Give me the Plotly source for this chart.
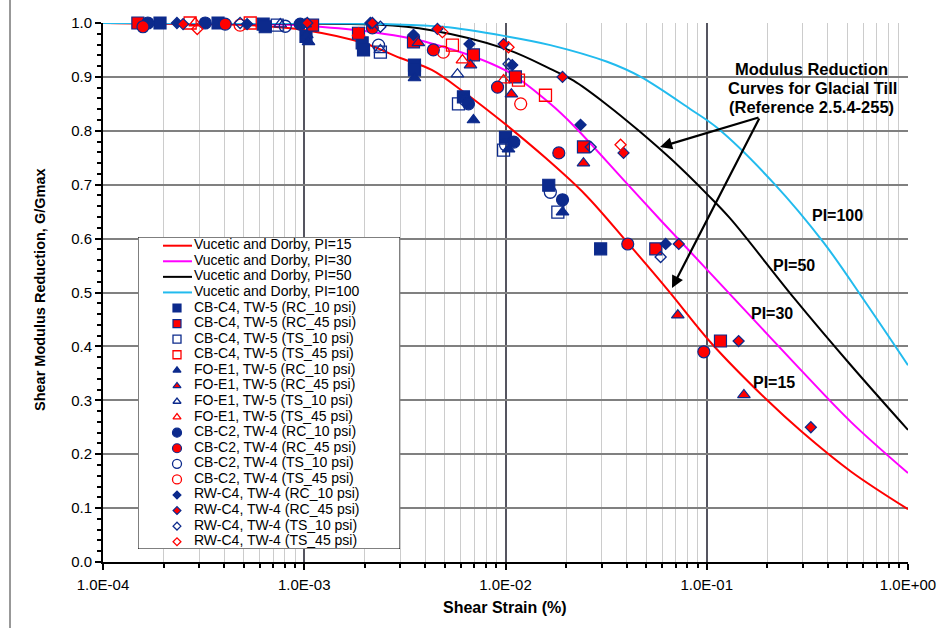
import plotly.graph_objects as go

# ---------------- data ----------------
# Vucetic and Dorby curves
pi15_strain = [1e-4, 3e-4, 6e-4, 1e-3, 2e-3, 3e-3, 4.3e-3, 6.2e-3, 1e-2, 1.6e-2, 2.5e-2, 4.05e-2, 6.4e-2, 0.106, 0.2, 0.294, 0.52, 1.0]
pi15_g = [1.0, 0.998, 0.995, 0.987, 0.962, 0.935, 0.913, 0.872, 0.812, 0.748, 0.681, 0.592, 0.505, 0.405, 0.30, 0.243, 0.168, 0.098]

pi30_strain = [1e-4, 5e-4, 1e-3, 2e-3, 4.2e-3, 1e-2, 1.67e-2, 2.2e-2, 3.86e-2, 5.9e-2, 0.1, 0.203, 0.294, 0.52, 1.0]
pi30_g = [1.0, 0.999, 0.995, 0.985, 0.963, 0.912, 0.85, 0.808, 0.709, 0.634, 0.543, 0.42, 0.356, 0.26, 0.165]

pi50_strain = [1e-4, 1e-3, 2.3e-3, 4.2e-3, 1e-2, 1.67e-2, 2.18e-2, 3.2e-2, 4.6e-2, 6.9e-2, 0.1, 0.131, 0.271, 0.52, 1.0]
pi50_g = [1.0, 0.999, 0.997, 0.987, 0.952, 0.915, 0.893, 0.848, 0.80, 0.742, 0.683, 0.637, 0.49, 0.365, 0.245]

pi100_strain = [1e-4, 1e-3, 2.5e-3, 4.9e-3, 1.02e-2, 1.67e-2, 3.2e-2, 4.7e-2, 8.3e-2, 0.113, 0.215, 0.382, 0.604, 1.0]
pi100_g = [1.0, 1.0, 0.998, 0.993, 0.975, 0.959, 0.928, 0.90, 0.84, 0.805, 0.703, 0.592, 0.486, 0.365]

curve_names = ["Vucetic and Dorby, PI=15", "Vucetic and Dorby, PI=30",
               "Vucetic and Dorby, PI=50", "Vucetic and Dorby, PI=100"]

# Test data
cb_c4_rc10_x = [1.92e-4, 3.73e-4, 6.25e-4, 6.4e-4, 1.02e-3, 1.94e-3, 1.97e-3, 3.53e-3, 3.53e-3, 6.18e-3, 1.0e-2, 1.64e-2, 2.97e-2]
cb_c4_rc10_y = [1.0, 1.0, 0.998, 0.993, 0.975, 0.963, 0.950, 0.922, 0.913, 0.863, 0.788, 0.699, 0.581]
cb_c4_rc45_x = [1.49e-4, 1.10e-3, 1.86e-3, 3.49e-3, 6.93e-3, 1.12e-2, 2.44e-2, 5.58e-2, 0.117]
cb_c4_rc45_y = [1.0, 0.996, 0.981, 0.965, 0.941, 0.900, 0.770, 0.581, 0.410]
cb_c4_ts10_x = [7.34e-4, 2.39e-3, 5.84e-3, 9.78e-3, 1.82e-2]
cb_c4_ts10_y = [0.996, 0.946, 0.850, 0.764, 0.649]
cb_c4_ts45_x = [2.71e-4, 5.39e-4, 5.45e-3, 1.16e-2, 1.58e-2]
cb_c4_ts45_y = [1.0, 1.0, 0.959, 0.894, 0.866]

fo_e1_rc10_x = [1.03e-3, 1.05e-3, 3.53e-3, 6.93e-3, 1.035e-2, 1.92e-2]
fo_e1_rc10_y = [0.978, 0.965, 0.898, 0.820, 0.766, 0.649]
fo_e1_rc45_x = [1.01e-3, 3.69e-3, 6.70e-3, 1.07e-2, 2.44e-2, 7.18e-2, 0.153]
fo_e1_rc45_y = [0.998, 0.963, 0.922, 0.868, 0.740, 0.458, 0.310]
fo_e1_ts10_x = [7.6e-4, 2.39e-3, 5.77e-3]
fo_e1_ts10_y = [0.998, 0.950, 0.905]
fo_e1_ts45_x = [2.87e-4, 1.86e-3, 6.11e-3, 9.78e-3]
fo_e1_ts45_y = [1.0, 0.981, 0.931, 0.894]

cb_c2_rc10_x = [1.67e-4, 3.22e-4, 9.55e-4, 6.55e-3, 1.10e-2, 1.92e-2]
cb_c2_rc10_y = [1.0, 1.0, 0.998, 0.850, 0.779, 0.672]
cb_c2_rc45_x = [1.58e-4, 4.05e-4, 2.18e-3, 4.38e-3, 9.13e-3, 1.84e-2, 4.05e-2, 9.67e-2]
cb_c2_rc45_y = [0.993, 0.998, 0.991, 0.950, 0.881, 0.759, 0.590, 0.390]
cb_c2_ts10_x = [8.05e-4, 2.34e-3, 6.32e-3, 1.0e-2, 1.67e-2]
cb_c2_ts10_y = [0.994, 0.959, 0.857, 0.774, 0.686]
cb_c2_ts45_x = [4.8e-4, 4.91e-3, 1.19e-2]
cb_c2_ts45_y = [0.996, 0.946, 0.850]

rw_c4_rc10_x = [2.33e-4, 5.2e-4, 2.13e-3, 3.49e-3, 6.62e-3, 1.08e-2, 2.36e-2, 6.25e-2]
rw_c4_rc10_y = [1.0, 0.998, 1.0, 0.978, 0.961, 0.922, 0.811, 0.590]
rw_c4_rc45_x = [2.5e-4, 1.035e-3, 2.18e-3, 4.59e-3, 9.78e-3, 1.92e-2, 3.86e-2, 7.26e-2, 0.144, 0.329]
rw_c4_rc45_y = [0.998, 1.0, 1.0, 0.989, 0.961, 0.900, 0.759, 0.590, 0.410, 0.250]
rw_c4_ts10_x = [4.8e-4, 2.39e-3, 1.035e-2, 2.65e-2, 5.90e-2]
rw_c4_ts10_y = [1.0, 0.993, 0.924, 0.770, 0.566]
rw_c4_ts45_x = [2.94e-4, 4.86e-3, 1.035e-2, 3.73e-2]
rw_c4_ts45_y = [0.989, 0.983, 0.955, 0.774]

series_names = [
    "CB-C4, TW-5 (RC_10 psi)", "CB-C4, TW-5 (RC_45 psi)", "CB-C4, TW-5 (TS_10 psi)", "CB-C4, TW-5 (TS_45 psi)",
    "FO-E1, TW-5 (RC_10 psi)", "FO-E1, TW-5 (RC_45 psi)", "FO-E1, TW-5 (TS_10 psi)", "FO-E1, TW-5 (TS_45 psi)",
    "CB-C2, TW-4 (RC_10 psi)", "CB-C2, TW-4 (RC_45 psi)", "CB-C2, TW-4 (TS_10 psi)", "CB-C2, TW-4 (TS_45 psi)",
    "RW-C4, TW-4 (RC_10 psi)", "RW-C4, TW-4 (RC_45 psi)", "RW-C4, TW-4 (TS_10 psi)", "RW-C4, TW-4 (TS_45 psi)",
]
series_x = [cb_c4_rc10_x, cb_c4_rc45_x, cb_c4_ts10_x, cb_c4_ts45_x,
            fo_e1_rc10_x, fo_e1_rc45_x, fo_e1_ts10_x, fo_e1_ts45_x,
            cb_c2_rc10_x, cb_c2_rc45_x, cb_c2_ts10_x, cb_c2_ts45_x,
            rw_c4_rc10_x, rw_c4_rc45_x, rw_c4_ts10_x, rw_c4_ts45_x]
series_y = [cb_c4_rc10_y, cb_c4_rc45_y, cb_c4_ts10_y, cb_c4_ts45_y,
            fo_e1_rc10_y, fo_e1_rc45_y, fo_e1_ts10_y, fo_e1_ts45_y,
            cb_c2_rc10_y, cb_c2_rc45_y, cb_c2_ts10_y, cb_c2_ts45_y,
            rw_c4_rc10_y, rw_c4_rc45_y, rw_c4_ts10_y, rw_c4_ts45_y]

x_tickvals = [1e-4, 1e-3, 1e-2, 1e-1, 1.0]
x_ticktext = ["1.0E-04", "1.0E-03", "1.0E-02", "1.0E-01", "1.0E+00"]

# ---------------- styling ----------------
NAVY = "#0c2a8c"
RED = "#ff0000"
FONT = "Arial, Liberation Sans, sans-serif"
curve_colors = ["#ff0000", "#ff00ff", "#000000", "#22bbee"]

W, H = 938, 628
ML, MR, MT, MB = 103, 30, 23, 66
PW, PH = W - ML - MR, H - MT - MB


def lx(px):  # pixel -> log10 data on x
    return -4 + 4 * (px - ML) / PW


def ly(py):  # pixel -> data y
    return (H - MB - py) / PH


def paper_x(px):
    return (px - ML) / PW


def paper_y(py):
    return (H - MB - py) / PH


shapes_base = ["square", "triangle-up", "circle", "diamond"]
plot_size = {"square": 12, "triangle-up": 11, "circle": 12, "diamond": 8.5}
leg_size = {"square": 8, "triangle-up": 7, "circle": 9, "diamond": 6}
variants = [  # (open?, color, outline)
    (False, NAVY, NAVY),
    (False, RED, NAVY),
    (True, NAVY, NAVY),
    (True, RED, RED),
]


def marker_style(i, sizes):
    base = shapes_base[i // 4]
    is_open, col, outline = variants[i % 4]
    if is_open:
        return dict(symbol=base + "-open", color=col, size=sizes[base],
                    line=dict(color=col, width=1.3))
    return dict(symbol=base, color=col, size=sizes[base],
                line=dict(color=outline, width=1.2))


fig = go.Figure()

curves = [(pi15_strain, pi15_g), (pi30_strain, pi30_g), (pi50_strain, pi50_g), (pi100_strain, pi100_g)]
for (sx, sy), c, n in zip(curves, curve_colors, curve_names):
    fig.add_trace(go.Scatter(x=sx, y=sy, mode="lines", name=n, showlegend=False,
                             line=dict(color=c, width=2, shape="spline", smoothing=1.0),
                             xaxis="x", yaxis="y", cliponaxis=True))

for i in range(16):
    fig.add_trace(go.Scatter(x=series_x[i], y=series_y[i], mode="markers", name=series_names[i],
                             showlegend=False, marker=marker_style(i, plot_size),
                             xaxis="x", yaxis="y", cliponaxis=False))

# ---------------- custom legend (inset axes) ----------------
LEG_L, LEG_R, LEG_T, LEG_B = 138, 400, 237, 549
LW, LH = LEG_R - LEG_L, LEG_B - LEG_T
row0, row_gap = 8.7, 15.58
sym_x, line_x0, line_x1, text_x = 39, 25, 54, 56

leg_labels = curve_names + series_names
leg_rows = [row0 + k * row_gap for k in range(len(leg_labels))]
for k in range(len(leg_labels)):
    ry = leg_rows[k]
    if k < 4:
        fig.add_trace(go.Scatter(x=[line_x0, line_x1], y=[ry, ry], mode="lines", showlegend=False,
                                 line=dict(color=curve_colors[k], width=2),
                                 xaxis="x2", yaxis="y2", hoverinfo="skip"))
    else:
        fig.add_trace(go.Scatter(x=[sym_x], y=[ry], mode="markers", showlegend=False,
                                 marker=marker_style(k - 4, leg_size),
                                 xaxis="x2", yaxis="y2", hoverinfo="skip", cliponaxis=False))
fig.add_trace(go.Scatter(x=[text_x] * len(leg_labels), y=leg_rows, mode="text", text=leg_labels,
                         textposition="middle right", showlegend=False, hoverinfo="skip",
                         textfont=dict(family=FONT, size=14, color="#000000"),
                         xaxis="x2", yaxis="y2", cliponaxis=False))

annotations = []
# ---------------- text annotations ----------------
bold = dict(family=FONT, size=16.5, color="#000000")
for txt, cx, cy in [("Modulus Reduction", 811, 69), ("Curves for Glacial Till", 812, 88),
                    ("(Reference 2.5.4-255)", 811, 107)]:
    annotations.append(dict(x=paper_x(cx), y=paper_y(cy), xref="paper", yref="paper",
                            text="<b>%s</b>" % txt, showarrow=False, xanchor="center",
                            yanchor="middle", font=bold, borderpad=0))

pi_font = dict(family=FONT, size=16, color="#000000")
for txt, cx, cy in [("PI=100", 837, 215), ("PI=50", 794, 265), ("PI=30", 772, 313), ("PI=15", 774, 382)]:
    annotations.append(dict(x=paper_x(cx), y=paper_y(cy), xref="paper", yref="paper",
                            text="<b>%s</b>" % txt, showarrow=False, xanchor="center",
                            yanchor="middle", font=pi_font))

# arrows
tail = (760, 117)
for head in [(660, 147), (672, 288)]:
    annotations.append(dict(x=lx(head[0]), y=ly(head[1]), xref="x", yref="y",
                            ax=lx(tail[0]), ay=ly(tail[1]), axref="x", ayref="y",
                            text="", showarrow=True, arrowhead=2, arrowsize=1.1,
                            arrowwidth=2.2, arrowcolor="#000000"))

# axis titles
annotations.append(dict(x=paper_x(505), y=paper_y(607), xref="paper", yref="paper",
                        text="<b>Shear Strain (%)</b>", showarrow=False, xanchor="center",
                        yanchor="middle", font=dict(family=FONT, size=16, color="#000000")))
annotations.append(dict(x=paper_x(40), y=paper_y(290), xref="paper", yref="paper",
                        text="<b>Shear Modulus Reduction, G/Gmax</b>", showarrow=False,
                        textangle=-90, xanchor="center", yanchor="middle",
                        font=dict(family=FONT, size=14.5, color="#000000")))

minor_x = [k * 10 ** e for e in range(-4, 0) for k in range(2, 10)]

fig.update_layout(
    width=W, height=H, autosize=False,
    margin=dict(l=ML, r=MR, t=MT, b=MB, pad=0, autoexpand=False),
    paper_bgcolor="white", plot_bgcolor="white",
    showlegend=False,
    font=dict(family=FONT, size=15, color="#000000"),
    xaxis=dict(type="log", range=[-4, 0], tickmode="array", tickvals=x_tickvals, ticktext=x_ticktext,
               showgrid=True, gridcolor="#555560", gridwidth=1.5, automargin=False,
               showline=True, linecolor="#000000", linewidth=2,
               ticks="outside", ticklen=6, tickwidth=1.5, tickcolor="#000000",
               ticklabelstandoff=2,
               tickfont=dict(family=FONT, size=15, color="#000000"),
               minor=dict(tickvals=minor_x, ticks="outside", ticklen=4, tickcolor="#000000",
                          showgrid=True, gridcolor="#cccccc", gridwidth=1.2),
               zeroline=False, domain=[0, 1], anchor="y"),
    yaxis=dict(range=[0, 1], dtick=0.1, tick0=0, tickformat=".1f", automargin=False,
               showgrid=True, gridcolor="#808080", gridwidth=1.5,
               showline=True, linecolor="#000000", linewidth=2,
               ticks="outside", ticklen=6, tickwidth=1.5, tickcolor="#000000",
               tickfont=dict(family=FONT, size=15, color="#000000"),
               minor=dict(dtick=0.02, ticks="outside", ticklen=4, tickcolor="#000000", showgrid=False),
               zeroline=False, domain=[0, 1], anchor="x"),
    xaxis2=dict(domain=[paper_x(LEG_L), paper_x(LEG_R)], range=[0, LW], visible=False,
                anchor="y2", fixedrange=True, automargin=False),
    yaxis2=dict(domain=[paper_y(LEG_B), paper_y(LEG_T)], range=[LH, 0], visible=False,
                anchor="x2", fixedrange=True, automargin=False),
    shapes=[
        dict(type="rect", xref="x2", yref="y2", x0=0, x1=LW, y0=0, y1=LH,
             fillcolor="white", line=dict(color="#000000", width=1), layer="below"),
        dict(type="line", xref="paper", yref="paper", x0=paper_x(10), x1=paper_x(10),
             y0=paper_y(0), y1=paper_y(H), line=dict(color="#333333", width=1), layer="above"),
    ],
    annotations=annotations,
)

fig.write_html("out.html", config={"displayModeBar": False, "responsive": False},
               post_script="document.body.style.margin='0px';document.body.style.overflow='hidden';")
